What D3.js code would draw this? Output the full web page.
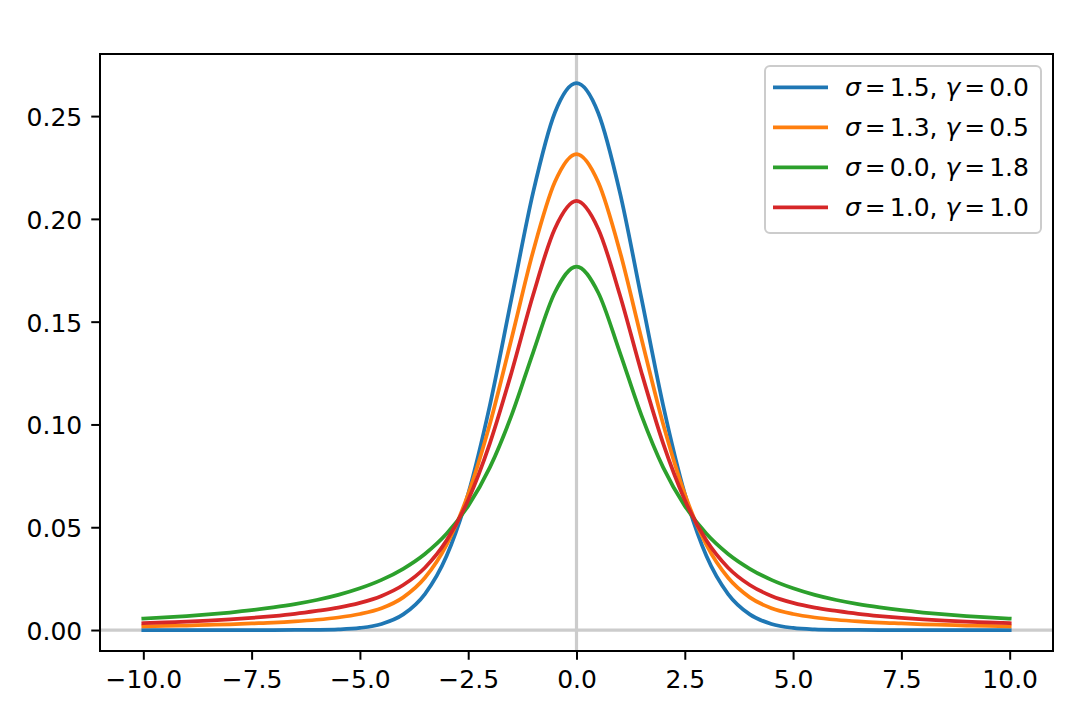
<!DOCTYPE html>
<html>
<head>
<meta charset="utf-8">
<script src="https://cdn.jsdelivr.net/npm/d3@7"></script>
<style>
  html, body { margin: 0; padding: 0; background: #ffffff; }
  svg { display: block; }
  text { font-family: "DejaVu Sans", sans-serif; fill: #000; }
</style>
</head>
<body>
<svg id="chart" width="1080" height="720"></svg>
<script>
// ---- data ----
const xValues = [-10, -9.5, -9, -8.5, -8, -7.5, -7, -6.5, -6, -5.5, -5, -4.5, -4, -3.5, -3, -2.5, -2, -1.5, -1, -0.5,
  0, 0.5, 1, 1.5, 2, 2.5, 3, 3.5, 4, 4.5, 5, 5.5, 6, 6.5, 7, 7.5, 8, 8.5, 9, 9.5, 10];

const blueValues = [0, 0, 0, 0, 0, 0, 0.00001, 0.00002, 0.00009, 0.00032, 0.00103, 0.00296, 0.0076, 0.0175, 0.0360, 0.0663, 0.1093, 0.1613, 0.2130, 0.2516,
  0.2660, 0.2516, 0.2130, 0.1613, 0.1093, 0.0663, 0.0360, 0.0175, 0.0076, 0.00296, 0.00103, 0.00032, 0.00009, 0.00002, 0.00001, 0, 0, 0, 0, 0, 0];

const orangeValues = [0.0018, 0.0020, 0.0022, 0.0025, 0.0028, 0.0032, 0.0036, 0.0042, 0.0050, 0.0061, 0.0078, 0.0106, 0.0159, 0.0254, 0.0414, 0.0661, 0.1002, 0.1417, 0.1843, 0.2179,
  0.2315, 0.2179, 0.1843, 0.1417, 0.1002, 0.0661, 0.0414, 0.0254, 0.0159, 0.0106, 0.0078, 0.0061, 0.0050, 0.0042, 0.0036, 0.0032, 0.0028, 0.0025, 0.0022, 0.0020, 0.0018];

const greenValues = [0.00555, 0.00613, 0.0068, 0.00759, 0.00852, 0.00963, 0.0110, 0.0126, 0.0146, 0.0171, 0.0203, 0.0244, 0.0298, 0.0370, 0.0468, 0.0604, 0.0791, 0.1044, 0.1351, 0.1642,
  0.1768, 0.1642, 0.1351, 0.1044, 0.0791, 0.0604, 0.0468, 0.0370, 0.0298, 0.0244, 0.0203, 0.0171, 0.0146, 0.0126, 0.0110, 0.00963, 0.00852, 0.00759, 0.0068, 0.00613, 0.00555];

const redValues = [0.0033, 0.0037, 0.0041, 0.0046, 0.0052, 0.0059, 0.0068, 0.0079, 0.0093, 0.0109, 0.0132, 0.0166, 0.0219, 0.0303, 0.0435, 0.0633, 0.0908, 0.1253, 0.1631, 0.1952,
  0.2087, 0.1952, 0.1631, 0.1253, 0.0908, 0.0633, 0.0435, 0.0303, 0.0219, 0.0166, 0.0132, 0.0109, 0.0093, 0.0079, 0.0068, 0.0059, 0.0052, 0.0046, 0.0041, 0.0037, 0.0033];

const sigmaLabels = ["1.5", "1.3", "0.0", "1.0"];
const gammaLabels = ["0.0", "0.5", "1.8", "1.0"];
const seriesColors = ["#1f77b4", "#ff7f0e", "#2ca02c", "#d62728"];
const seriesValues = [blueValues, orangeValues, greenValues, redValues];

const xTicks = [-10, -7.5, -5, -2.5, 0, 2.5, 5, 7.5, 10];
const yTicks = [0, 0.05, 0.10, 0.15, 0.20, 0.25];

// ---- layout ----
(function () {
const svg = d3.select("#chart");
const pL = 100, pR = 1053, pT = 54, pB = 651;
const x = d3.scaleLinear().domain([-11, 11]).range([pL, pR]);
const y = d3.scaleLinear().domain([-0.0102, 0.2802]).range([pB, pT]);

svg.append("clipPath").attr("id", "clip").append("rect")
  .attr("x", pL).attr("y", pT).attr("width", pR - pL).attr("height", pB - pT);

const inner = svg.append("g").attr("clip-path", "url(#clip)");

// reference lines at 0
inner.append("line")
  .attr("x1", pL).attr("x2", pR).attr("y1", y(0)).attr("y2", y(0))
  .attr("stroke", "#cccccc").attr("stroke-width", 3.2);
inner.append("line")
  .attr("x1", x(0)).attr("x2", x(0)).attr("y1", pT).attr("y2", pB)
  .attr("stroke", "#cccccc").attr("stroke-width", 3.2);

// curves
const line = d3.line()
  .x(d => x(d[0]))
  .y(d => y(d[1]))
  .curve(d3.curveMonotoneX);

seriesValues.forEach((vals, i) => {
  inner.append("path")
    .datum(xValues.map((xv, k) => [xv, vals[k]]))
    .attr("fill", "none")
    .attr("stroke", seriesColors[i])
    .attr("stroke-width", 3.75)
    .attr("stroke-linejoin", "round")
    .attr("stroke-linecap", "square")
    .attr("d", line);
});

// axes
const fmtX = d3.format(".1f");
const fmtY = d3.format(".2f");

const xAxis = d3.axisBottom(x).tickValues(xTicks).tickFormat(fmtX).tickSize(8.75).tickPadding(6);
const yAxis = d3.axisLeft(y).tickValues(yTicks).tickFormat(fmtY).tickSize(8.75).tickPadding(9);

const gx = svg.append("g").attr("transform", `translate(0,${pB})`).call(xAxis);
const gy = svg.append("g").attr("transform", `translate(${pL},0)`).call(yAxis);

[gx, gy].forEach(g => {
  g.select(".domain").remove();
  g.selectAll(".tick line").attr("stroke", "#000").attr("stroke-width", 2);
  g.selectAll(".tick text")
    .attr("font-family", "DejaVu Sans, sans-serif")
    .attr("font-size", 25)
    .attr("fill", "#000");
});
gx.selectAll(".tick text").attr("dy", null).attr("y", 37);
gy.selectAll(".tick text").attr("dy", null).attr("y", 9.5);

// frame
svg.append("rect")
  .attr("x", pL).attr("y", pT).attr("width", pR - pL).attr("height", pB - pT)
  .attr("fill", "none").attr("stroke", "#000").attr("stroke-width", 2);

// legend
const lg = svg.append("g");
lg.append("rect")
  .attr("x", 765).attr("y", 66).attr("width", 276).attr("height", 167)
  .attr("rx", 5).attr("ry", 5)
  .attr("fill", "#ffffff").attr("fill-opacity", 0.8)
  .attr("stroke", "#cccccc").attr("stroke-width", 2);

sigmaLabels.forEach((s, i) => {
  const cy = 87.3 + i * 40;
  lg.append("line")
    .attr("x1", 773).attr("x2", 828).attr("y1", cy).attr("y2", cy)
    .attr("stroke", seriesColors[i]).attr("stroke-width", 3.75);
  const t = lg.append("text")
    .attr("x", 845).attr("y", cy + 8.7)
    .attr("font-size", 25);
  t.append("tspan").attr("font-style", "italic").text("σ");
  t.append("tspan").attr("dx", 4).text("=");
  t.append("tspan").attr("dx", 4).text(s + ", ");
  t.append("tspan").attr("font-style", "italic").text("γ");
  t.append("tspan").attr("dx", 4).text("=");
  t.append("tspan").attr("dx", 4).text(gammaLabels[i]);
});
})();
</script>
</body>
</html>
